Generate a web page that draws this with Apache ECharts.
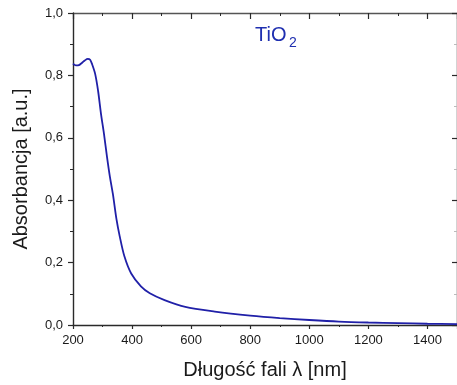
<!DOCTYPE html>
<html>
<head>
<meta charset="utf-8">
<script src="https://cdn.jsdelivr.net/npm/echarts@6/dist/echarts.min.js"></script>
<style>
html,body{margin:0;padding:0;background:#fff;}
#c{width:457px;height:385px;}
</style>
</head>
<body>
<div id="c"></div>
<script>
// Data
const wavelength = [200,210,220,230,240,250,258,265,275,285,295,305,315,325,335,347,358,374,397,430,460,510,580,680,800,900,1000,1100,1200,1300,1400,1500];
const absorbance = [0.838,0.832,0.833,0.840,0.848,0.853,0.850,0.835,0.805,0.750,0.675,0.612,0.540,0.475,0.420,0.340,0.285,0.220,0.165,0.124,0.102,0.080,0.058,0.043,0.030,0.022,0.016,0.011,0.008,0.006,0.004,0.003];
const xTicks = [200,400,600,800,1000,1200,1400];
const yTicks = [0.0,0.2,0.4,0.6,0.8,1.0];
const xTitle = 'Długość fali λ [nm]';
const yTitle = 'Absorbancja [a.u.]';
const sampleLabel = 'TiO';
const sampleSub = '2';

const chart = echarts.init(document.getElementById('c'), null, {renderer:'canvas'});
const axisColor = '#2a2a2a';
const textColor = '#1a1a1a';
const font = 'Liberation Sans, Arial, sans-serif';
const fmtY = v => v.toFixed(1).replace('.', ',');

const baseAxisLine = {show:true, onZero:false, lineStyle:{color:axisColor, width:1.4}};

chart.setOption({
  animation:false,
  backgroundColor:'#fff',
  grid:{left:73, top:13, width:387, height:312, containLabel:false},
  xAxis:[
    {type:'value', position:'bottom', min:200, max:1500, interval:200,
     axisLine:baseAxisLine,
     axisTick:{show:true, inside:false, length:4, lineStyle:{color:axisColor, width:1.2}},
     minorTick:{show:true, splitNumber:2, length:2, lineStyle:{color:axisColor, width:1}},
     splitLine:{show:false},
     axisLabel:{show:true, margin:9, color:textColor, fontSize:13, fontFamily:font,
       customValues: xTicks, formatter: v => String(v)},
     name:xTitle, nameLocation:'middle', nameGap:35,
     nameTextStyle:{fontSize:20, color:textColor, fontFamily:font}
    },
    {type:'value', position:'top', min:200, max:1500, interval:200,
     axisLine:{show:true, onZero:false, lineStyle:{color:'#555', width:1.4}},
     axisTick:{show:true, inside:true, length:6, lineStyle:{color:axisColor, width:1.2}},
     minorTick:{show:true, splitNumber:2, length:3, lineStyle:{color:axisColor, width:1}},
     splitLine:{show:false}, axisLabel:{show:false}
    }
  ],
  yAxis:[
    {type:'value', position:'left', min:0, max:1, interval:0.2,
     axisLine:baseAxisLine,
     axisTick:{show:true, inside:false, length:5, lineStyle:{color:axisColor, width:1.2}},
     minorTick:{show:true, splitNumber:2, length:3, lineStyle:{color:axisColor, width:1}},
     splitLine:{show:false},
     axisLabel:{show:true, margin:10, color:textColor, fontSize:13, fontFamily:font,
       customValues: yTicks, formatter: fmtY},
     name:yTitle, nameLocation:'middle', nameGap:42, nameRotate:90,
     nameTextStyle:{fontSize:20, color:textColor, fontFamily:font}
    },
    {type:'value', position:'right', min:0, max:1, interval:0.2,
     axisLine:{show:true, onZero:false, lineStyle:{color:axisColor, width:1.4}},
     axisTick:{show:true, inside:true, length:5, lineStyle:{color:axisColor, width:1.2}},
     minorTick:{show:true, splitNumber:2, length:3, lineStyle:{color:'#bbb', width:1}},
     splitLine:{show:false}, axisLabel:{show:false}
    }
  ],
  graphic:[
    {type:'text', left:255, top:25,
     style:{text:sampleLabel, fontSize:20, fill:'#1f2fb0', fontFamily:font}},
    {type:'text', left:289, top:36,
     style:{text:sampleSub, fontSize:14, fill:'#1f2fb0', fontFamily:font}}
  ],
  series:[{
    type:'line', xAxisIndex:0, yAxisIndex:0,
    data: wavelength.map((w,i)=>[w, absorbance[i]]),
    smooth:0.3, showSymbol:false, clip:true,
    lineStyle:{color:'#2020a8', width:1.8}
  }]
});
</script>
</body>
</html>
